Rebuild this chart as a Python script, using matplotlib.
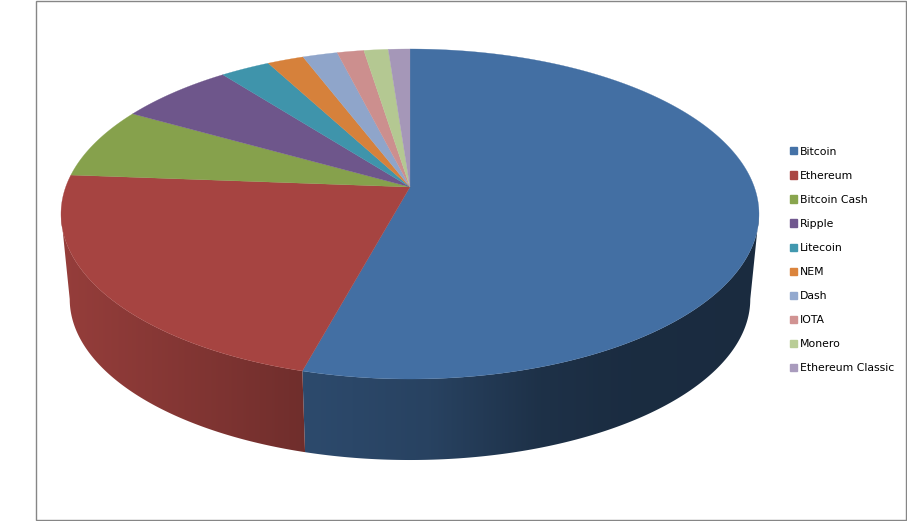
import numpy as np
import matplotlib
matplotlib.use('Agg')
import matplotlib.pyplot as plt
from matplotlib.colors import to_rgb
from matplotlib.patches import Polygon, Rectangle

nombres = ['Bitcoin', 'Ethereum', 'Bitcoin Cash', 'Ripple', 'Litecoin',
           'NEM', 'Dash', 'IOTA', 'Monero', 'Ethereum Classic']
valores = [54.24, 21.96, 6.99, 6.29, 2.71, 1.98, 1.89, 1.45, 1.32, 1.17]
colores = ['#4572A7', '#AA4643', '#89A54E', '#71588F', '#4198AF',
           '#DB843D', '#93A9CF', '#D19392', '#B9CD96', '#A99BBD']

# perspectiva del disco, en pixeles de la imagen
cx, cy = 410, 187
a, b, k = 344.3, 160.6, 0.1636
escala_base, salto_base = 0.975, 85.8


def proyectar(theta, base=False):
    # theta en grados, sentido horario desde arriba
    t = np.radians(theta)
    u, v = np.sin(t), -np.cos(t)
    x = a * u / (1 - k * v)
    y = b * v / (1 - k * v)
    if base:
        return cx + escala_base * x, cy + escala_base * y + salto_base
    return cx + x, cy + y


def luz(x):
    return np.interp(x, [61, 230, 300, 303, 430, 540, 620, 759],
                     [0.88, 0.73, 0.66, 0.65, 0.58, 0.43, 0.39, 0.38])


fig = plt.figure(figsize=(9.07, 5.21), dpi=100)
ax = fig.add_axes([0, 0, 1, 1])
ax.axis('off')

ax.add_patch(Rectangle((36, 0.5), 870, 519.5, facecolor='white',
                       edgecolor='#868686', linewidth=1.0, zorder=0))

bordes = np.concatenate([[0], np.cumsum(valores)]) / np.sum(valores) * 360
limite = np.degrees(np.arccos(-k))  # donde el disco es mas ancho

# costado con degrade horizontal
xs_grad = np.arange(55, 766)
for i in range(len(valores)):
    t0 = max(bordes[i], limite)
    t1 = min(bordes[i + 1], 360 - limite)
    if t1 <= t0:
        continue
    angulos = np.linspace(t0, t1, 200)
    xa, ya = proyectar(angulos)
    xb, yb = proyectar(angulos, base=True)
    borde = Polygon(np.c_[np.r_[xa, xb[::-1]], np.r_[ya, yb[::-1]]], closed=True,
                    transform=ax.transData, facecolor='none', edgecolor='none')
    ax.add_patch(borde)
    grad = np.array(to_rgb(colores[i]))[None, None, :] * luz(xs_grad)[None, :, None]
    im = ax.imshow(grad, extent=(55, 766, 470, 100), aspect='auto',
                   interpolation='bilinear', zorder=1)
    im.set_clip_path(borde)

# cara superior
caras = []
for i in range(len(valores)):
    angulos = np.linspace(bordes[i], bordes[i + 1], 200)
    xs, ys = proyectar(angulos)
    c = np.array(to_rgb(colores[i])) * 0.975
    ax.fill(np.r_[cx, xs], np.r_[cy, ys], color=c, linewidth=0.2, zorder=2)
    caras.append(Rectangle((0, 0), 1, 1, color=colores[i]))

ax.set_xlim(0, 907)
ax.set_ylim(521, 0)

ax.legend(caras, nombres, loc='center left', bbox_to_anchor=(780 / 907, 1 - 260 / 521),
          frameon=False, fontsize=7.8, handlelength=0.65, handleheight=0.65,
          handletextpad=0.3, labelspacing=1.3, labelcolor='black')

plt.savefig('out.png', dpi=100)
